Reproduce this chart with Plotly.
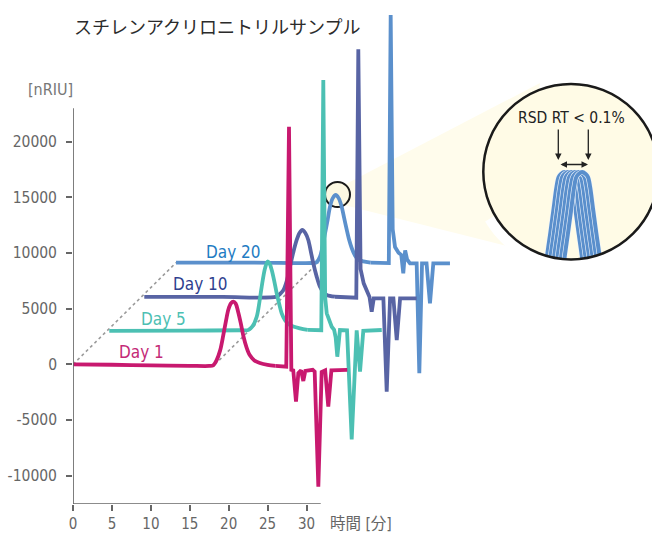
import math
import plotly.graph_objects as go

# ---------------- data ----------------
days = ["Day 1", "Day 5", "Day 10", "Day 20"]
# waterfall offsets of each run (minutes, nRIU)
offset_t = [0.0, 4.65, 9.15, 13.23]
offset_v = [0.0, 3000.0, 6050.0, 9130.0]

day1_t = [0, 5, 10, 15, 17.5, 18.0, 18.45, 18.9, 19.3, 19.65, 19.95, 20.3, 20.59, 20.9, 21.2, 21.55, 21.9,
          22.3, 22.7, 23.3, 24.0, 25.0, 26.0, 27.4, 27.75, 28.05, 28.3, 28.65, 28.95, 29.3, 29.59, 29.85,
          30.8, 31.05, 31.52, 31.95, 32.4, 32.8, 33.2, 35.24]
day1_v = [0, -40, -100, -140, -150, -100, 380, 1250, 2600, 3900, 4900, 5480, 5625, 5450, 4750, 3700, 2500,
          1500, 830, 350, 120, -60, -150, -215, 21350, -500, -550, -3360, -800, -550, -1500, -600,
          -500, -650, -10990, -700, -550, -3810, -550, -500]

day5_t = [0, 10, 17.0, 17.87, 18.4, 18.95, 19.3, 19.59, 20.02, 20.35, 20.6, 20.88, 21.2, 21.52, 21.85, 22.16,
          22.6, 23.23, 24.51, 25.5, 27.25, 27.51, 27.75, 27.95, 28.3, 28.59, 28.9, 29.1, 29.31, 29.5, 29.65,
          30.56, 31.16, 31.8, 32.23, 32.65, 35.02]
day5_v = [0, 30, 60, 80, 400, 1277, 2600, 3972, 5625, 6237, 6050, 5473, 4500, 3380, 2400, 1582,
          950, 530, 235, 100, 60, 22536, 3000, 1582, 900, 378, 100, -600, -2317, -400, 82,
          50, -9739, 50, -3665, 14, 82]

day10_t = [0, 10, 17.0, 17.44, 17.87, 18.3, 18.73, 19.15, 19.59, 19.95, 20.31, 20.7, 21.08, 21.4, 21.72, 22.15,
           22.58, 23.0, 23.45, 24.5, 27.25, 27.51, 27.8, 28.2, 28.6, 28.95, 29.23, 29.5, 30.73, 31.16, 31.59,
           32.02, 32.45, 32.88, 35.01]
day10_v = [0, 0, 30, 265, 600, 1400, 2720, 4000, 5120, 5750, 6016, 5750, 5120, 4100, 3025, 1850,
           922, 450, 177, 20, -63, 22253, 2500, 1228, 600, 0, -1324, -120, -120, -8512, -120,
           -120, -3867, -120, -120]

day20_t = [0, 10, 17.5, 18.0, 18.5, 19.15, 19.5, 19.79, 20.15, 20.52, 20.9, 21.29, 21.6, 21.94, 22.25, 22.58,
           23.0, 23.43, 24.07, 25.0, 27.35, 27.59, 27.85, 28.15, 28.6, 28.95, 29.21, 29.45, 29.7, 30.07,
           30.93, 31.27, 31.62, 32.2, 32.64, 33.07, 35.21]
day20_v = [0, 0, -30, 0, 538, 2636, 3900, 5032, 5800, 6081, 5800, 5032, 4050, 2966, 2050, 1322,
           650, 271, 118, 0, -35, 22254, 3000, 1400, 900, 700, -954, 1100, 300, -55,
           -55, -9939, -55, -55, -3649, -55, -55]

series_t = [day1_t, day5_t, day10_t, day20_t]
series_v = [day1_v, day5_v, day10_v, day20_v]

# start times of the two guide diagonals (relative run time, min)
guide_t = [0.0, 18.24]

x_tickvals = [0, 5, 10, 15, 20, 25, 30]
x_ticktext = ["0", "5", "10", "15", "20", "25", "30"]
y_tickvals = [-10000, -5000, 0, 5000, 10000, 15000, 20000]
y_ticktext = ["-10000", "-5000", "0", "5000", "10000", "15000", "20000"]

# magnified view of the Day 20 peak apex (replicate injections)
inset_rt_offsets = [-0.665, -0.40, -0.13, 0.13, 0.40, 0.665]
inset_dt = [-1.37, -1.316, -1.053, -0.816, -0.60, -0.436, -0.263, 0.0, 0.263, 0.436, 0.60, 0.816, 1.053, 1.316, 1.37]
inset_frac = [0.51, 0.55, 0.6824, 0.8057, 0.9206, 0.9735, 0.9894, 1.0, 0.9894, 0.9735, 0.9206, 0.8057, 0.6824, 0.55, 0.51]

# ---------------- styling / layout ----------------
W, H = 652, 533
X0_PX, PX_PER_MIN = 73.1, 7.78
Y0_PX, UNIT_PER_PX = 364.3, 89.85
AX_BOTTOM_PX = 504.0
SMOOTH_UNTIL = 26.0   # smooth (spline) rendering of the slow peak region

line_colors = ["#c8196f", "#4cc0b3", "#5864a4", "#5b90cc"]
label_colors = ["#c42a77", "#4cc0b3", "#2f3f8f", "#1f7cc3"]
NARROW = "DejaVu Sans Condensed, Liberation Sans, sans-serif"
CJK = "Noto Sans CJK JP, Noto Sans, sans-serif"


def px(xp):
    return xp / W


def py(yp):
    return 1 - yp / H


x_rng = [0, (W - X0_PX) / PX_PER_MIN]
y_rng = [(Y0_PX - AX_BOTTOM_PX) * UNIT_PER_PX, Y0_PX * UNIT_PER_PX]

fig = go.Figure()

# guide diagonals
for gt in guide_t:
    fig.add_trace(go.Scatter(
        x=[gt + offset_t[0], gt + offset_t[-1]],
        y=[offset_v[0], offset_v[-1]],
        mode="lines", line=dict(color="#9a9a9a", width=1.6, dash="dot"),
        hoverinfo="skip", showlegend=False))

# chromatograms, back to front
for i in [3, 2, 1, 0]:
    ts, vs = series_t[i], series_v[i]
    k = max(j for j, t in enumerate(ts) if t <= SMOOTH_UNTIL)
    xa = [t + offset_t[i] for t in ts]
    ya = [v + offset_v[i] for v in vs]
    fig.add_trace(go.Scatter(
        x=xa[:k + 1], y=ya[:k + 1], mode="lines",
        line=dict(color=line_colors[i], width=3.8, shape="spline", smoothing=0.9),
        name=days[i], showlegend=False, hoverinfo="skip"))
    fig.add_trace(go.Scatter(
        x=xa[k:], y=ya[k:], mode="lines",
        line=dict(color=line_colors[i], width=3.8),
        name=days[i], showlegend=False, hoverinfo="skip"))

# inset replicate peaks
for off in inset_rt_offsets:
    xs = [off + d for d in inset_dt]
    fig.add_trace(go.Scatter(x=xs, y=inset_frac, xaxis="x2", yaxis="y2", mode="lines",
                             line=dict(color="#eef4fb", width=5.2, shape="spline"),
                             hoverinfo="skip", showlegend=False))
    fig.add_trace(go.Scatter(x=xs, y=inset_frac, xaxis="x2", yaxis="y2", mode="lines",
                             line=dict(color="#5a8fcc", width=4.0, shape="spline"),
                             hoverinfo="skip", showlegend=False))

# inset axes mapping (px of apex, magnification)
APEX_X, APEX_Y, KX, KY = 573.3, 172.0, 13.3, 188.9
x2_rng = [(0 - APEX_X) / KX, (W - APEX_X) / KX]
y2_rng = [1 - (H - APEX_Y) / KY, 1 + APEX_Y / KY]

# shapes
BIG_CX, BIG_CY, BIG_R = 571.0, 171.7, 87.7
SM_CX, SM_CY, SM_R = 337.5, 194.5, 12.5

cone = "M {} {} L {} {} L {} {} L {} {} Z".format(
    px(344), py(185), px(540), py(83), px(517), py(248.5), px(344), py(205))

ring_pts = []
for k in range(0, 41):
    a = math.radians(30 + k * 3)
    rr = BIG_R + 6
    ring_pts.append((px(BIG_CX + rr * math.cos(a)), py(BIG_CY + rr * math.sin(a))))
ring_path = "M " + " L ".join("{:.5f} {:.5f}".format(a, b) for a, b in ring_pts)

shapes = [
    dict(type="path", path=cone, xref="paper", yref="paper", fillcolor="#fffcec",
         line=dict(width=0), layer="below"),
    dict(type="circle", xref="paper", yref="paper", x0=px(SM_CX - SM_R), x1=px(SM_CX + SM_R),
         y0=py(SM_CY + SM_R), y1=py(SM_CY - SM_R), fillcolor="#fcf8e2",
         line=dict(color="#1a1a1a", width=2), layer="below"),
    dict(type="circle", xref="paper", yref="paper", x0=px(BIG_CX - BIG_R), x1=px(BIG_CX + BIG_R),
         y0=py(BIG_CY + BIG_R), y1=py(BIG_CY - BIG_R), fillcolor="#fffbe6",
         line=dict(width=0), layer="below"),
    dict(type="path", path=ring_path, xref="paper", yref="paper", fillcolor="rgba(0,0,0,0)",
         line=dict(color="white", width=11), layer="above"),
    dict(type="circle", xref="paper", yref="paper", x0=px(BIG_CX - BIG_R), x1=px(BIG_CX + BIG_R),
         y0=py(BIG_CY + BIG_R), y1=py(BIG_CY - BIG_R), fillcolor="rgba(0,0,0,0)",
         line=dict(color="#1a1a1a", width=2.5), layer="above"),
    # axis lines
    dict(type="line", xref="x", yref="y", x0=0, x1=0, y0=y_rng[0], y1=23000,
         line=dict(color="#666666", width=1.5), layer="above"),
    dict(type="line", xref="x", yref="y", x0=0, x1=31.83, y0=y_rng[0], y1=y_rng[0],
         line=dict(color="#666666", width=1.5), layer="above"),
]

annotations = [
    dict(text="スチレンアクリロニトリルサンプル", xref="paper", yref="paper", x=px(71.5), y=py(26),
         xanchor="left", yanchor="middle", showarrow=False,
         font=dict(family=CJK, size=18, color="#2b2b2b")),
    dict(text="[nRIU]", xref="paper", yref="paper", x=px(50), y=py(89.5),
         xanchor="center", yanchor="middle", showarrow=False,
         font=dict(family=NARROW, size=16, color="#777777")),
    dict(text="時間 [分]", xref="paper", yref="paper", x=px(361), y=py(524),
         xanchor="center", yanchor="middle", showarrow=False,
         font=dict(family=NARROW + ", " + CJK, size=15.5, color="#666666")),
    dict(text="RSD RT < 0.1%", xref="paper", yref="paper", x=px(571), y=py(117.5),
         xanchor="center", yanchor="middle", showarrow=False,
         font=dict(family=NARROW, size=15.5, color="#222222")),
]
label_pos = [(141, 351.7), (163.8, 318.6), (200, 283.5), (233.3, 251.7)]
for i, (lx, ly) in enumerate(label_pos):
    annotations.append(dict(text=days[i], xref="paper", yref="paper", x=px(lx), y=py(ly),
                            xanchor="center", yanchor="middle", showarrow=False,
                            font=dict(family=NARROW, size=17, color=label_colors[i])))
# arrows
for ax_px in [558.3, 588.3]:
    annotations.append(dict(text="", xref="paper", yref="paper", x=px(ax_px), y=py(160),
                            ax=0, ay=-32, showarrow=True, arrowhead=2, arrowsize=1,
                            arrowwidth=1.3, arrowcolor="#222222"))
annotations.append(dict(text="", xref="paper", yref="paper", x=px(588), y=py(164.5),
                        ax=-29, ay=0, showarrow=True, arrowhead=2, startarrowhead=2,
                        arrowside="end+start", arrowsize=1, startarrowsize=1,
                        arrowwidth=1.3, arrowcolor="#222222"))

fig.update_layout(
    width=W, height=H,
    margin=dict(l=0, r=0, t=0, b=0, autoexpand=False),
    paper_bgcolor="white", plot_bgcolor="rgba(0,0,0,0)",
    showlegend=False,
    xaxis=dict(domain=[px(X0_PX), 1], range=x_rng, showgrid=False, zeroline=False, showline=False,
               tickmode="array", tickvals=x_tickvals, ticktext=x_ticktext,
               ticks="outside", ticklen=6, tickwidth=1.5, tickcolor="#666666", automargin=False,
               tickfont=dict(family=NARROW, size=15, color="#666666"), anchor="y",
               ticklabelstandoff=0),
    yaxis=dict(domain=[py(AX_BOTTOM_PX), 1], range=y_rng, showgrid=False, zeroline=False, showline=False,
               tickmode="array", tickvals=y_tickvals, ticktext=y_ticktext,
               ticks="outside", ticklen=6, tickwidth=1.5, tickcolor="#666666", automargin=False,
               tickfont=dict(family=NARROW, size=15.5, color="#666666"), anchor="x",
               ticklabelstandoff=6),
    xaxis2=dict(domain=[0, 1], range=x2_rng, visible=False, anchor="y2", automargin=False),
    yaxis2=dict(domain=[0, 1], range=y2_rng, visible=False, anchor="x2", automargin=False),
    shapes=shapes,
    annotations=annotations,
)

fig.write_html("out.html", config={"displayModeBar": False},
               post_script="document.body.style.margin='0px';document.body.style.overflow='hidden';")
